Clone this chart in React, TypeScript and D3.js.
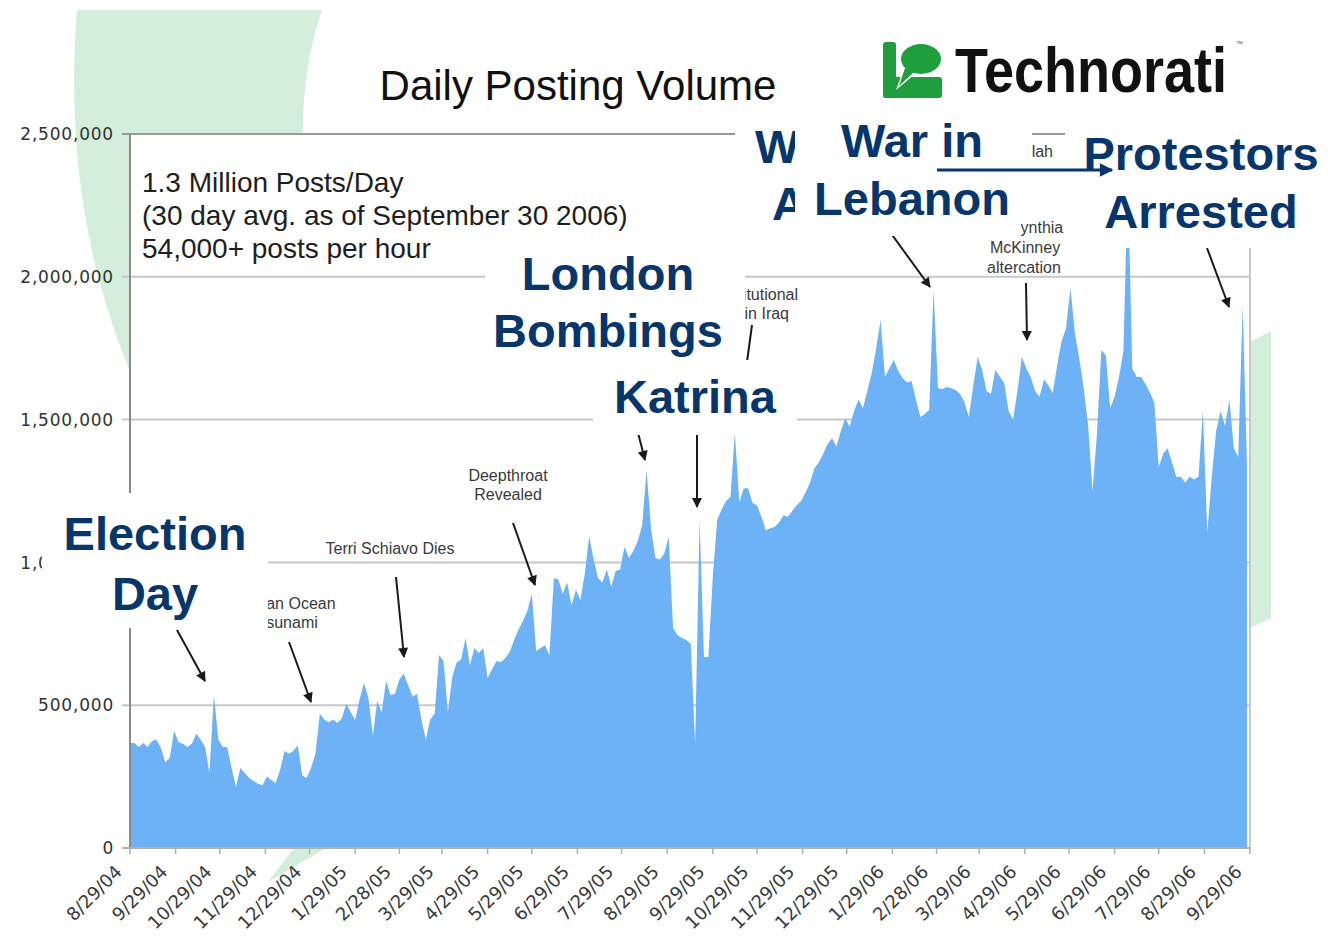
import React from "react";
import * as d3 from "d3";

// daily posts (thousands), one reading every 3 days from 8/29/04
const startLabel = "8/29/04";
const stepDays = 3;
const postsK = [
  368, 368, 354, 368, 354, 375, 380, 350, 300, 315,
  410, 370, 365, 354, 365, 400, 380, 354, 263, 536,
  380, 354, 354, 280, 214, 280, 263, 245, 235, 225,
  220, 250, 238, 228, 273, 340, 330, 340, 360, 255,
  245, 280, 330, 470, 450, 440, 450, 438, 455, 505,
  475, 448, 520, 578, 525, 395, 515, 475, 585, 535,
  540, 590, 610, 570, 530, 540, 450, 380, 450, 470,
  676, 655, 475, 600, 650, 660, 735, 640, 700, 683,
  700, 595, 625, 655, 650, 665, 685, 728, 765, 795,
  830, 890, 690, 700, 710, 675, 945, 940, 890, 930,
  850, 905, 868, 960, 1090, 1010, 945, 930, 975, 915,
  970, 975, 1055, 1015, 1040, 1075, 1130, 1323, 1120, 1015,
  1010, 1030, 1090, 770, 745, 735, 728, 715, 361, 1148,
  669, 669, 950, 1150, 1185, 1215, 1230, 1453, 1210, 1260,
  1260, 1208, 1200, 1160, 1113, 1120, 1124, 1140, 1165, 1160,
  1180, 1200, 1215, 1245, 1278, 1330, 1350, 1380, 1415, 1435,
  1405, 1460, 1505, 1475, 1530, 1570, 1540, 1600, 1663, 1750,
  1849, 1650, 1680, 1709, 1670, 1645, 1630, 1635, 1570, 1509,
  1520, 1534, 1954, 1610, 1607, 1614, 1610, 1604, 1590, 1560,
  1509, 1620, 1719, 1674, 1600, 1590, 1674, 1650, 1628, 1530,
  1500, 1600, 1719, 1680, 1649, 1600, 1580, 1640, 1620, 1593,
  1690, 1775, 1820, 1961, 1803, 1715, 1610, 1480, 1250, 1450,
  1744, 1725, 1540, 1580, 1650, 1740, 2350, 1680, 1649, 1649,
  1625, 1595, 1560, 1334, 1380, 1400, 1350, 1299, 1300, 1280,
  1300, 1290, 1300, 1530, 1103, 1300, 1460, 1530, 1478, 1569,
  1400, 1369, 1898, 1334,
];

const tickLabels = [
  "8/29/04", "9/29/04", "10/29/04", "11/29/04", "12/29/04",
  "1/29/05", "2/28/05", "3/29/05", "4/29/05", "5/29/05", "6/29/05",
  "7/29/05", "8/29/05", "9/29/05", "10/29/05", "11/29/05", "12/29/05",
  "1/29/06", "2/28/06", "3/29/06", "4/29/06", "5/29/06", "6/29/06",
  "7/29/06", "8/29/06", "9/29/06",
];
const yTicks = [0, 500000, 1000000, 1500000, 2000000, 2500000];

const infoLines = [
  "1.3 Million Posts/Day",
  "(30 day avg. as of September 30 2006)",
  "54,000+ posts per hour",
];

// small grey notes: [text, x, y, anchor]
const notes: [string, number, number, string][] = [
  ["Indian Ocean", 288, 609, "middle"],
  ["Tsunami", 288, 628, "middle"],
  ["Terri Schiavo Dies", 390, 554, "middle"],
  ["Deepthroat", 508, 481, "middle"],
  ["Revealed", 508, 500, "middle"],
  ["Constitutional", 798, 300, "end"],
  ["in Iraq", 789, 319, "end"],
  ["Hezbollah", 1053, 157, "end"],
  ["Cynthia", 1009, 233, "start"],
  ["McKinney", 1025, 253, "middle"],
  ["altercation", 1024, 273, "middle"],
];

// black arrows [x1, y1, x2, y2]
const arrows: number[][] = [
  [177, 630, 205, 681],
  [289, 642, 311, 702],
  [396, 577, 404, 657],
  [513, 523, 535, 585],
  [636, 425, 645, 460],
  [697, 430, 697, 507],
  [752, 325, 738, 428],
  [890, 232, 930, 287],
  [1026, 283, 1027, 340],
  [1207, 248, 1229, 307],
];

// big navy call-outs: box [x, y, w, h], lines with their x, baselines
const callouts = [
  { box: [735, 112, 62, 133], lines: ["W", "A"], xs: [755, 772], ys: [163, 220], anchor: "start" },
  { box: [795, 112, 226, 124], lines: ["War in", "Lebanon"], xs: [912, 912], ys: [157, 215], anchor: "middle" },
  { box: [1021, 112, 11, 90], lines: [], xs: [], ys: [], anchor: "middle" },
  { box: [485, 245, 260, 117], lines: ["London", "Bombings"], xs: [608, 608], ys: [290, 347], anchor: "middle" },
  { box: [593, 360, 204, 75], lines: ["Katrina"], xs: [695], ys: [413], anchor: "middle" },
  { box: [42, 493, 226, 135], lines: ["Election", "Day"], xs: [155, 155], ys: [550, 610], anchor: "middle" },
  { box: [1065, 118, 263, 130], lines: ["Protestors", "Arrested"], xs: [1201, 1201], ys: [170, 228], anchor: "middle" },
];

const W = 1328;
const H = 942;
const plot = { left: 130, right: 1250, top: 134, bottom: 848 };
const navy = "#06366b";
const paleGreen = "#d3eedb";

export default function App() {
  const parse = d3.timeParse("%m/%d/%y");
  const start = parse(startLabel) as Date;
  const tickDates = tickLabels.map((t) => parse(t) as Date);

  const x = d3
    .scaleTime()
    .domain([tickDates[0], tickDates[tickDates.length - 1]])
    .range([plot.left, plot.right]);
  const y = d3.scaleLinear().domain([0, 2500000]).range([plot.bottom, plot.top]);

  const data = postsK.map((v, i) => ({
    date: d3.timeDay.offset(start, i * stepDays),
    value: v * 1000,
  }));

  const area = d3
    .area<{ date: Date; value: number }>()
    .x((d) => x(d.date))
    .y0(y(0))
    .y1((d) => y(d.value))
    .curve(d3.curveLinear);

  const fmt = d3.format(",");
  const sans = "'Liberation Sans', Arial, sans-serif";
  const verd = "'DejaVu Sans', Verdana, sans-serif";

  return (
    <svg
      width={W}
      height={H}
      style={{ position: "absolute", left: 0, top: 0, background: "#fff" }}
    >
      <defs>
        <marker id="ah" viewBox="0 0 10 10" refX="9" refY="5" markerWidth="6" markerHeight="5" orient="auto">
          <path d="M0,0 L10,5 L0,10 z" fill="#1a1a1a" />
        </marker>
        <marker id="ahNavy" viewBox="0 0 10 10" refX="9" refY="5" markerWidth="5.5" markerHeight="4.5" orient="auto">
          <path d="M0,0 L10,5 L0,10 z" fill={navy} />
        </marker>
        <clipPath id="plotClip">
          <rect x={plot.left} y={plot.top} width={plot.right - plot.left} height={plot.bottom - plot.top} />
        </clipPath>
        <clipPath id="labelClip">
          <rect x={0} y={0} width={42} height={H} />
        </clipPath>
      </defs>

      {/* slide background swooshes */}
      <path d="M77,10 L322,10 C310,45 302,90 303,140 L140,140 L140,395 C98,300 64,180 77,10 Z" fill={paleGreen} />
      <path d="M268,882 L294,848 L326,848 Z" fill={paleGreen} />
      <path d="M1250,342 L1271,331 L1271,618 L1250,628 Z" fill={paleGreen} />

      {/* plot */}
      <rect x={plot.left} y={plot.top} width={plot.right - plot.left} height={plot.bottom - plot.top} fill="#fff" />
      {yTicks.slice(1, -1).map((t) => (
        <line key={t} x1={plot.left - 8} x2={plot.right} y1={y(t)} y2={y(t)} stroke="#c8c8c8" strokeWidth={2} />
      ))}
      <path d={area(data) || ""} fill="#6db1f7" clipPath="url(#plotClip)" />

      <line x1={plot.left - 8} x2={plot.right} y1={plot.top} y2={plot.top} stroke="#9a9a9a" strokeWidth={2} />
      <line x1={plot.right} x2={plot.right} y1={plot.top} y2={plot.bottom} stroke="#c8c8c8" strokeWidth={2} />
      <line x1={plot.left} x2={plot.left} y1={plot.top} y2={plot.bottom} stroke="#8a8a8a" strokeWidth={2} />
      <line x1={plot.left - 8} x2={plot.right} y1={plot.bottom} y2={plot.bottom} stroke="#b0b0b0" strokeWidth={2} />
      {tickDates.map((d, i) => (
        <line key={i} x1={x(d)} x2={x(d)} y1={plot.bottom} y2={plot.bottom + 6} stroke="#b0b0b0" strokeWidth={1.5} />
      ))}

      {/* the 1,000,000 label sits mostly under the Election Day call-out */}
      {yTicks.map((t) => (
        <text key={t} x={114} y={y(t)} dy="0.36em" textAnchor="end" fontFamily={verd} fontSize={17}
          letterSpacing={0.8} fill="#333" clipPath={t === 1000000 ? "url(#labelClip)" : undefined}>
          {fmt(t)}
        </text>
      ))}
      {tickDates.map((d, i) => (
        <text key={i} transform={`translate(${x(d) - 7},${plot.bottom + 25}) rotate(-45)`} textAnchor="end"
          fontFamily={verd} fontSize={18} fill="#3a3a3a">
          {tickLabels[i]}
        </text>
      ))}

      {/* title and logo */}
      <text x={578} y={100} textAnchor="middle" fontFamily={sans} fontSize={42} fill="#111">
        Daily Posting Volume
      </text>
      <g>
        <rect x={883} y={42} width={13} height={56} rx={3} fill="#1f9e3c" />
        <rect x={883} y={77} width={59} height={21} rx={3} fill="#1f9e3c" />
        <path d="M903,70 L896,90 L915,74 Z" fill="#fff" />
        <ellipse cx={920} cy={59} rx={23} ry={18} fill="#fff" />
        <ellipse cx={921} cy={59} rx={20} ry={15} fill="#1f9e3c" />
        <path d="M905,68 L899,86 L914,72 Z" fill="#1f9e3c" />
      </g>
      <text transform="translate(955,92) scale(1,1.16)" fontFamily={sans} fontWeight="bold" fontSize={54}
        fill="#111">
        Technorati
      </text>
      <text x={1236} y={46} fontFamily={sans} fontSize={7} fill="#555">™</text>

      {infoLines.map((l, i) => (
        <text key={i} x={142} y={192 + i * 33} fontFamily={sans} fontSize={28} fill="#1e1e1e">
          {l}
        </text>
      ))}

      {notes.map(([t, nx, ny, a], i) => (
        <text key={i} x={nx} y={ny} textAnchor={a} fontFamily={sans} fontSize={16} fill="#3a3a3a">
          {t}
        </text>
      ))}
      {arrows.map(([x1, y1, x2, y2], i) => (
        <line key={i} x1={x1} y1={y1} x2={x2} y2={y2} stroke="#1a1a1a" strokeWidth={2} markerEnd="url(#ah)" />
      ))}

      {callouts.map((c, i) => (
        <g key={i}>
          <rect x={c.box[0]} y={c.box[1]} width={c.box[2]} height={c.box[3]} fill="#fff" />
          {c.lines.map((l, j) => (
            <text key={j} x={c.xs[j]} y={c.ys[j]} textAnchor={c.anchor} fontFamily={sans} fontWeight="bold"
              fontSize={47} fill={navy}>
              {l}
            </text>
          ))}
        </g>
      ))}
      <line x1={937} y1={170} x2={1112} y2={170} stroke={navy} strokeWidth={3} markerEnd="url(#ahNavy)" />
    </svg>
  );
}
